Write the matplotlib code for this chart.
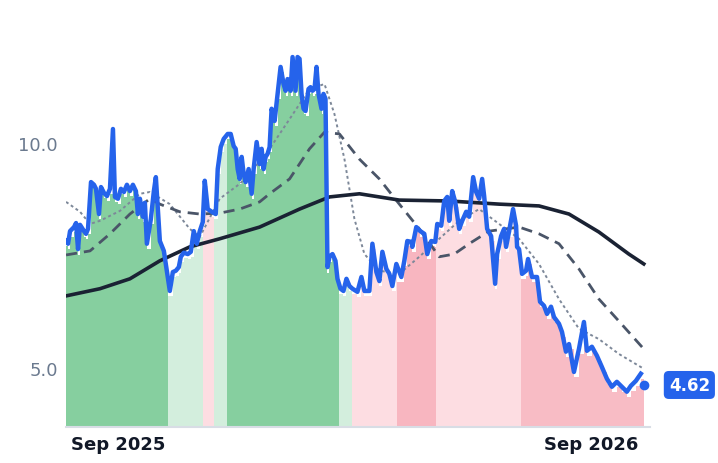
import numpy as np
import pandas as pd
import matplotlib
matplotlib.use("Agg")
import matplotlib.pyplot as plt
import matplotlib.dates as mdates

# time readings (chart units), converted to dates below
start = pd.Timestamp("2025-07-23")
day_per_unit = 0.77

price_t = [66, 68, 70, 74, 76, 78, 80, 84, 86, 88, 91, 94, 96, 99, 101, 104, 107, 110, 113, 115,
           118, 121, 124, 127, 130, 133, 136, 138, 140, 143, 145, 147, 151, 154, 156, 158, 160, 162,
           164, 167, 170, 173, 176, 179, 181, 184, 188, 191, 194, 197, 200, 203, 205, 208, 212, 216,
           218, 221, 224, 228, 231, 234, 236, 238, 240, 242, 244, 246, 249, 252, 254, 257, 260, 262,
           264, 266, 268, 270, 272, 275, 278, 281, 284, 286, 288, 291, 293, 296, 298, 300, 302, 304,
           306, 309, 311, 313, 315, 317, 319, 322, 324, 326, 328, 330, 333, 336, 338, 341, 344, 347,
           350, 353, 358, 362, 365, 370, 373, 377, 380, 383, 387, 390, 393, 397, 402, 405, 408, 412,
           413, 417, 421, 425, 428, 432, 436, 438, 442, 445, 448, 450, 453, 456, 460, 463, 467, 470,
           474, 477, 480, 483, 485, 488, 492, 496, 498, 502, 505, 507, 510, 514, 517, 518, 520, 523,
           527, 529, 533, 538, 541, 545, 548, 552, 555, 560, 563, 567, 570, 575, 580, 585, 588, 593,
           598, 603, 608, 613, 618, 623, 628, 632, 637, 642]
price = [7.82, 7.76, 8.04, 8.13, 8.22, 7.64, 8.18, 8.04, 7.98, 8.09, 9.13, 9.07, 8.98, 8.42, 9.02,
         8.89, 8.82, 8.98, 10.31, 8.80, 8.76, 8.98, 8.91, 9.07, 8.93, 9.07, 8.93, 8.42, 8.76, 8.36,
         8.67, 7.76, 8.31, 8.93, 9.24, 8.53, 7.82, 7.71, 7.60, 7.16, 6.71, 7.13, 7.16, 7.24, 7.47,
         7.56, 7.53, 7.58, 8.04, 7.76, 8.04, 8.24, 9.16, 8.53, 8.47, 8.42, 9.42, 9.91, 10.09, 10.20,
         10.20, 9.93, 9.87, 9.42, 9.20, 9.69, 9.31, 9.13, 9.42, 8.87, 9.42, 10.02, 9.53, 9.87, 9.42,
         9.69, 9.76, 9.91, 10.76, 10.49, 11.09, 11.69, 11.31, 11.16, 11.42, 11.16, 11.91, 11.16, 11.91,
         11.87, 11.09, 10.76, 10.71, 11.20, 11.24, 11.16, 11.20, 11.69, 11.09, 10.76, 11.09, 10.98,
         7.24, 7.47, 7.53, 7.38, 6.98, 6.76, 6.71, 6.98, 6.82, 6.76, 6.69, 7.02, 6.71, 6.71, 7.76,
         7.13, 6.93, 7.58, 7.20, 7.09, 6.82, 7.31, 7.02, 7.38, 7.82, 7.80, 7.69, 8.13, 8.04, 7.98,
         7.53, 7.82, 7.80, 8.20, 8.16, 8.71, 8.80, 8.27, 8.93, 8.69, 8.09, 8.27, 8.47, 8.36, 9.24,
         8.91, 8.76, 9.20, 8.82, 8.09, 7.93, 6.87, 7.53, 7.93, 8.09, 7.69, 8.04, 8.53, 8.16, 7.69,
         7.64, 7.09, 7.16, 7.42, 7.02, 7.02, 6.47, 6.38, 6.20, 6.36, 6.13, 5.98, 5.80, 5.36, 5.53,
         4.91, 5.42, 6.02, 5.38, 5.47, 5.27, 5.02, 4.76, 4.58, 4.69, 4.58, 4.47, 4.60, 4.71, 4.87]
last_t, last_price = 645, 4.62

ma_long_t = [66, 100, 130, 160, 190, 220, 260, 300, 330, 360, 400, 450, 500, 540, 570, 600, 630, 645]
ma_long = [6.60, 6.76, 6.98, 7.38, 7.69, 7.87, 8.13, 8.53, 8.80, 8.87, 8.73, 8.71, 8.64, 8.60, 8.42, 8.02, 7.53, 7.31]

ma_mid_t = [66, 90, 110, 130, 150, 160, 180, 200, 220, 240, 260, 270, 290, 310, 325, 340, 360, 380,
            400, 420, 440, 455, 470, 490, 520, 540, 560, 580, 600, 620, 645]
ma_mid = [7.51, 7.60, 7.98, 8.42, 8.76, 8.64, 8.47, 8.42, 8.44, 8.53, 8.69, 8.87, 9.20, 9.87, 10.24,
          10.20, 9.64, 9.20, 8.64, 8.09, 7.47, 7.53, 7.76, 8.04, 8.13, 7.98, 7.76, 7.20, 6.53, 6.04, 5.42]

ma_short_t = [66, 80, 90, 100, 120, 140, 150, 170, 190, 200, 220, 240, 250, 270, 290, 310, 325, 335,
              345, 355, 365, 380, 400, 420, 440, 460, 480, 500, 520, 540, 560, 580, 600, 620, 645]
ma_short = [8.69, 8.47, 8.20, 8.27, 8.49, 8.87, 8.91, 8.64, 8.09, 7.91, 8.76, 9.09, 9.31, 9.87, 10.53,
            11.20, 11.31, 10.64, 9.64, 8.31, 7.53, 7.16, 7.09, 7.47, 7.87, 8.27, 8.53, 8.20, 7.87, 7.31,
            6.53, 5.87, 5.64, 5.31, 4.98]

# background regime segments
seg_edges = [66, 168, 203, 214, 227, 340, 353, 398, 437, 522, 645]
seg_colors = ["#86cf9f", "#d3eedd", "#fddde2", "#d3eedd", "#86cf9f", "#d3eedd",
              "#fddde2", "#f8b6c0", "#fddde2", "#f8bcc5"]


def to_dates(t):
    return start + pd.to_timedelta((np.asarray(t) - 66) * day_per_unit, unit="D")


fig = plt.figure(figsize=(7.18, 4.64), dpi=100)
ax = fig.add_axes([0.092, 0.078, 0.813, 0.922])
ymin = 3.69

pt = np.array(price_t + [last_t])
pv = np.array(price + [last_price])
for i, c in enumerate(seg_colors):
    a, b = seg_edges[i], seg_edges[i + 1]
    m = (pt >= a) & (pt <= b)
    xs = np.concatenate([[a], pt[m], [b]])
    ys = np.concatenate([[pv[m][0]], pv[m], [pv[m][-1]]]) - 0.12
    ax.fill_between(to_dates(xs), ymin, ys, step="post", color=c, lw=0)

ax.plot(to_dates(ma_short_t), ma_short, color="#7d8899", lw=1.4, ls=(0, (1.5, 1.5)))
ax.plot(to_dates(ma_mid_t), ma_mid, color="#4a5568", lw=2, ls=(0, (4, 2.5)))
ax.plot(to_dates(ma_long_t), ma_long, color="#1a2233", lw=2.6)
ax.plot(to_dates(price_t), price, color="#2563eb", lw=3.2, solid_joinstyle="round")
ax.plot(to_dates([last_t]), [last_price], "o", color="#2563eb", ms=6)
ax.annotate(f"{last_price:.2f}", xy=(to_dates([last_t])[0], last_price), xytext=(18, 0),
            textcoords="offset points", va="center", ha="left", color="white",
            fontsize=12, fontweight="bold",
            bbox=dict(boxstyle="round,pad=0.3", fc="#2563eb", ec="none"), annotation_clip=False)

ax.set_ylim(ymin, 13.2)
ax.set_xlim(to_dates([66])[0], to_dates([651])[0])
ax.set_yticks([5.0, 10.0])
ax.set_yticklabels(["5.0", "10.0"], color="#6b7a8f", fontsize=13)
ax.set_xticks([pd.Timestamp("2025-09-01"), pd.Timestamp("2026-09-01")])
ax.xaxis.set_major_formatter(mdates.DateFormatter("%b %Y"))
for lab in ax.get_xticklabels():
    lab.set_fontweight("bold")
    lab.set_fontsize(13)
    lab.set_color("#111827")
ax.tick_params(length=0, pad=6)
for s in ["top", "right", "left"]:
    ax.spines[s].set_visible(False)
ax.spines["bottom"].set_color("#d8dde5")
ax.spines["bottom"].set_linewidth(1.5)

fig.savefig("out.png", dpi=100)
